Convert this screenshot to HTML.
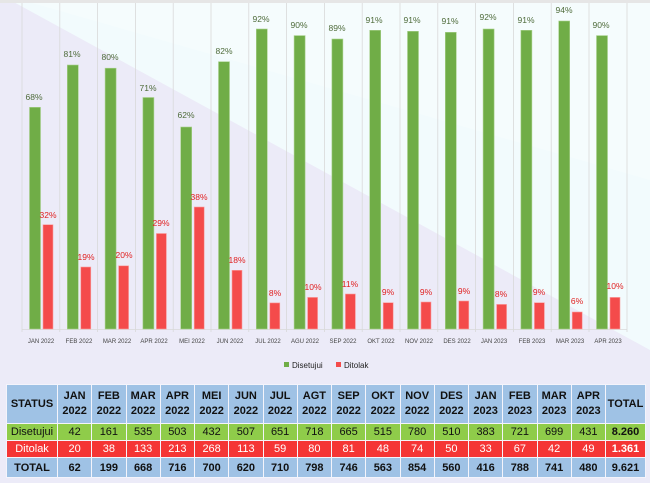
<!DOCTYPE html>
<html><head><meta charset="utf-8"><style>
body{margin:0;width:650px;height:483px;overflow:hidden;background:#ecebf8;font-family:"Liberation Sans",sans-serif;position:relative}
svg{position:absolute;left:0;top:0}
table{position:absolute;left:6px;top:384px;border-collapse:collapse;font-size:11px;text-align:center;table-layout:fixed;width:639px}
td{border:1.5px solid #f4f4fb;padding:0;height:16px;color:#111;overflow:hidden;white-space:nowrap}
tr.h td{background:#9fc2e5;font-weight:bold;height:38px;line-height:15px}
tr.g td{background:#8fcc4a}
tr.r td{background:#f53535;color:#fff}
tr.t td{background:#9fc2e5;font-weight:bold;height:19px}
</style></head><body>
<svg width="650" height="380" viewBox="0 0 650 380">
<rect x="0" y="0" width="650" height="380" fill="#ecebf8"/>
<polygon points="10,0 650,0 650,350 " fill="#f2fbfd"/>
<polygon points="60,0 650,0 650,170 " fill="#fafcfe"/>
<polygon points="22,0 650,180 650,0" fill="#f5fcfd"/>
<rect x="0" y="0" width="650" height="3" fill="#e6e6e6"/>
<g stroke="#d9d9d9" stroke-width="0.8">
<line x1="22" y1="3" x2="22" y2="332"/><line x1="59.8" y1="3" x2="59.8" y2="332"/><line x1="97.6" y1="3" x2="97.6" y2="332"/><line x1="135.4" y1="3" x2="135.4" y2="332"/><line x1="173.2" y1="3" x2="173.2" y2="332"/><line x1="211" y1="3" x2="211" y2="332"/><line x1="248.8" y1="3" x2="248.8" y2="332"/><line x1="286.6" y1="3" x2="286.6" y2="332"/><line x1="324.4" y1="3" x2="324.4" y2="332"/><line x1="362.2" y1="3" x2="362.2" y2="332"/><line x1="400" y1="3" x2="400" y2="332"/><line x1="437.8" y1="3" x2="437.8" y2="332"/><line x1="475.6" y1="3" x2="475.6" y2="332"/><line x1="513.4" y1="3" x2="513.4" y2="332"/><line x1="551.2" y1="3" x2="551.2" y2="332"/><line x1="589" y1="3" x2="589" y2="332"/><line x1="627" y1="3" x2="627" y2="332"/>
<line x1="22" y1="329.5" x2="627" y2="329.5"/>
</g>
<g fill="#70ad47" stroke="#a9d18e" stroke-width="0.6">
<rect x="29.5" y="107.3" width="11" height="221.7"/>
<rect x="67.3" y="65" width="11" height="264"/>
<rect x="105.1" y="68.2" width="11" height="260.8"/>
<rect x="142.9" y="97.5" width="11" height="231.5"/>
<rect x="180.7" y="127" width="11" height="202"/>
<rect x="218.5" y="61.7" width="11" height="267.3"/>
<rect x="256.3" y="29" width="11" height="300"/>
<rect x="294.1" y="35.6" width="11" height="293.4"/>
<rect x="331.9" y="39" width="11" height="290"/>
<rect x="369.7" y="30.3" width="11" height="298.7"/>
<rect x="407.5" y="31.3" width="11" height="297.7"/>
<rect x="445.3" y="32.3" width="11" height="296.7"/>
<rect x="483.1" y="29" width="11" height="300"/>
<rect x="520.9" y="30.3" width="11" height="298.7"/>
<rect x="558.7" y="21" width="11" height="308"/>
<rect x="596.5" y="35.6" width="11" height="293.4"/>
</g>
<g fill="#f44b4b" stroke="#f9a0a0" stroke-width="0.6">
<rect x="43" y="224.7" width="10" height="104.3"/>
<rect x="80.8" y="267" width="10" height="62"/>
<rect x="118.6" y="265.8" width="10" height="63.2"/>
<rect x="156.4" y="233.5" width="10" height="95.5"/>
<rect x="194.2" y="207" width="10" height="122"/>
<rect x="232" y="270.3" width="10" height="58.7"/>
<rect x="269.8" y="302.9" width="10" height="26.1"/>
<rect x="307.6" y="297.4" width="10" height="31.6"/>
<rect x="345.4" y="294" width="10" height="35"/>
<rect x="383.2" y="302.7" width="10" height="26.3"/>
<rect x="421" y="302" width="10" height="27"/>
<rect x="458.8" y="301" width="10" height="28"/>
<rect x="496.6" y="304.4" width="10" height="24.6"/>
<rect x="534.4" y="302.7" width="10" height="26.3"/>
<rect x="572.2" y="312" width="10" height="17"/>
<rect x="610" y="297.4" width="10" height="31.6"/>
</g>
<g font-size="8.5" fill="#4e6b3a" text-anchor="middle">
<text x="34" y="100">68%</text><text x="72" y="57">81%</text><text x="110" y="60">80%</text><text x="148" y="91">71%</text><text x="186" y="118">62%</text><text x="224" y="54">82%</text><text x="261" y="22">92%</text><text x="299" y="28">90%</text><text x="337" y="31">89%</text><text x="374" y="23">91%</text><text x="412" y="23">91%</text><text x="450" y="24">91%</text><text x="488" y="20">92%</text><text x="526" y="23">91%</text><text x="564" y="13">94%</text><text x="601" y="28">90%</text>
</g>
<g font-size="8.5" fill="#e02020" text-anchor="middle">
<text x="48" y="218">32%</text><text x="86" y="260">19%</text><text x="124" y="258">20%</text><text x="161" y="226">29%</text><text x="199" y="200">38%</text><text x="237" y="263">18%</text><text x="275" y="296">8%</text><text x="313" y="290">10%</text><text x="350" y="287">11%</text><text x="388" y="295">9%</text><text x="426" y="295">9%</text><text x="464" y="294">9%</text><text x="501" y="297">8%</text><text x="539" y="295">9%</text><text x="577" y="304">6%</text><text x="615" y="289">10%</text>
</g>
<g font-size="6" fill="#444" text-anchor="middle">
<text x="41" y="343">JAN 2022</text><text x="79" y="343">FEB 2022</text><text x="117" y="343">MAR 2022</text><text x="154" y="343">APR 2022</text><text x="192" y="343">MEI 2022</text><text x="230" y="343">JUN 2022</text><text x="268" y="343">JUL 2022</text><text x="305" y="343">AGU 2022</text><text x="343" y="343">SEP 2022</text><text x="381" y="343">OKT 2022</text><text x="419" y="343">NOV 2022</text><text x="457" y="343">DES 2022</text><text x="494" y="343">JAN 2023</text><text x="532" y="343">FEB 2023</text><text x="570" y="343">MAR 2023</text><text x="608" y="343">APR 2023</text>
</g>
<rect x="284" y="362" width="5" height="5" fill="#70ad47"/>
<text x="292" y="368" font-size="8" fill="#222">Disetujui</text>
<rect x="336" y="362" width="5" height="5" fill="#f44b4b"/>
<text x="344" y="368" font-size="8" fill="#222">Ditolak</text>
</svg>
<table>
<colgroup><col style="width:51px"><col span="16" style="width:34.25px"><col style="width:40px"></colgroup>
<tr class="h"><td>STATUS</td><td>JAN<br>2022</td><td>FEB<br>2022</td><td>MAR<br>2022</td><td>APR<br>2022</td><td>MEI<br>2022</td><td>JUN<br>2022</td><td>JUL<br>2022</td><td>AGT<br>2022</td><td>SEP<br>2022</td><td>OKT<br>2022</td><td>NOV<br>2022</td><td>DES<br>2022</td><td>JAN<br>2023</td><td>FEB<br>2023</td><td>MAR<br>2023</td><td>APR<br>2023</td><td>TOTAL</td></tr>
<tr class="g"><td>Disetujui</td><td>42</td><td>161</td><td>535</td><td>503</td><td>432</td><td>507</td><td>651</td><td>718</td><td>665</td><td>515</td><td>780</td><td>510</td><td>383</td><td>721</td><td>699</td><td>431</td><td><b>8.260</b></td></tr>
<tr class="r"><td>Ditolak</td><td>20</td><td>38</td><td>133</td><td>213</td><td>268</td><td>113</td><td>59</td><td>80</td><td>81</td><td>48</td><td>74</td><td>50</td><td>33</td><td>67</td><td>42</td><td>49</td><td><b>1.361</b></td></tr>
<tr class="t"><td>TOTAL</td><td>62</td><td>199</td><td>668</td><td>716</td><td>700</td><td>620</td><td>710</td><td>798</td><td>746</td><td>563</td><td>854</td><td>560</td><td>416</td><td>788</td><td>741</td><td>480</td><td>9.621</td></tr>
</table>
</body></html>
